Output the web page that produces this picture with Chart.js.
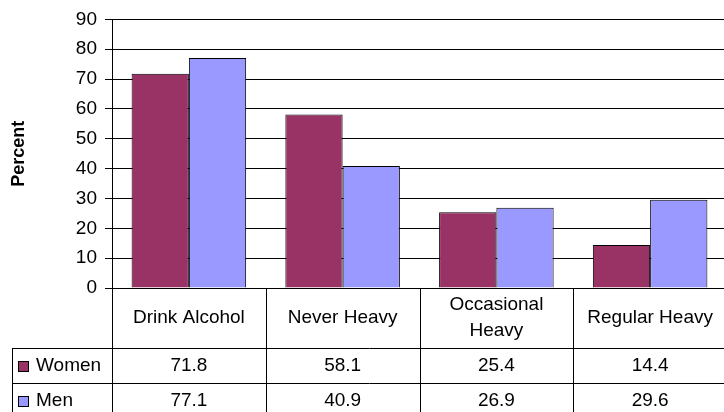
<!DOCTYPE html>
<html>
<head>
<meta charset="utf-8">
<script src="https://cdn.jsdelivr.net/npm/chart.js@4/dist/chart.umd.min.js"></script>
<style>
  html, body { margin: 0; padding: 0; background: #fff; overflow: hidden; }
  #wrap { width: 724px; height: 412px; overflow: hidden; position: relative; }
  canvas { display: block; }
</style>
</head>
<body>
<div id="wrap"><canvas id="c" width="740" height="412" style="width:740px;height:412px"></canvas></div>
<script>
// Drinking patterns by sex (percent)
const categories = ['Drink Alcohol', 'Never Heavy', ['Occasional', 'Heavy'], 'Regular Heavy'];
const seriesNames = ['Women', 'Men'];
const women = [71.8, 58.1, 25.4, 14.4];
const men = [77.1, 40.9, 26.9, 29.6];
const seriesColors = ['#993366', '#9999FF'];
const yMin = 0, yMax = 90, yStep = 10;
const yTitle = 'Percent';

const FONT = '"Liberation Sans", Arial, sans-serif';
const TEXT_SIZE = 19;

// Excel-style data table drawn beneath the plot, aligned to the category scale
const dataTable = {
  id: 'dataTable',
  afterDraw(chart) {
    const { ctx, chartArea: a } = chart;
    const labels = chart.data.labels;
    const n = labels.length;
    const cw = (a.right - a.left) / n;
    const headTop = a.bottom;
    const headBot = headTop + 60;
    const rowH = 35;
    const tableLeft = 12;
    const bottom = chart.height + 20;

    ctx.save();
    ctx.strokeStyle = '#000';
    ctx.lineWidth = 1;
    ctx.beginPath();
    for (let i = 0; i <= n; i++) {
      const px = Math.round(a.left + i * cw) + 0.5;
      ctx.moveTo(px, headTop);
      ctx.lineTo(px, bottom);
    }
    chart.data.datasets.forEach((ds, r) => {
      const py = Math.round(headBot + r * rowH) + 0.5;
      ctx.moveTo(tableLeft, py);
      ctx.lineTo(a.right, py);
    });
    ctx.moveTo(tableLeft + 0.5, headBot);
    ctx.lineTo(tableLeft + 0.5, bottom);
    ctx.stroke();

    ctx.fillStyle = '#000';
    ctx.font = TEXT_SIZE + 'px ' + FONT;
    ctx.textAlign = 'center';
    ctx.textBaseline = 'middle';

    // header: category names
    const lineH = 25.5;
    labels.forEach((lab, i) => {
      const lines = Array.isArray(lab) ? lab : [lab];
      const cx = a.left + (i + 0.5) * cw;
      const y0 = (headTop + headBot) / 2 - (lines.length - 1) * lineH / 2;
      lines.forEach((t, k) => ctx.fillText(t, cx, y0 + k * lineH));
    });

    // series rows: legend key, name, values
    chart.data.datasets.forEach((ds, r) => {
      const mid = headBot + r * rowH + rowH / 2;
      ctx.fillStyle = ds.backgroundColor;
      ctx.fillRect(18, Math.round(mid - 5), 11, 11);
      ctx.strokeStyle = '#000';
      ctx.strokeRect(18.5, Math.round(mid - 5) + 0.5, 10, 10);
      ctx.fillStyle = '#000';
      ctx.textAlign = 'left';
      ctx.fillText(ds.label, 36, mid);
      ctx.textAlign = 'center';
      ds.data.forEach((v, i) => {
        ctx.fillText(v.toFixed(1), a.left + (i + 0.5) * cw, mid);
      });
    });
    ctx.restore();
  }
};

new Chart(document.getElementById('c'), {
  type: 'bar',
  data: {
    labels: categories,
    datasets: [
      { label: seriesNames[0], data: women, backgroundColor: seriesColors[0] },
      { label: seriesNames[1], data: men, backgroundColor: seriesColors[1] }
    ]
  },
  options: {
    responsive: false,
    animation: false,
    devicePixelRatio: 1,
    layout: { padding: { left: 0, top: 16, right: 13, bottom: 124 } },
    datasets: {
      bar: {
        borderColor: '#000',
        borderWidth: 1,
        categoryPercentage: 0.745,
        barPercentage: 1.0
      }
    },
    plugins: {
      legend: { display: false },
      tooltip: { enabled: false },
      title: { display: false }
    },
    scales: {
      x: {
        display: false
      },
      y: {
        min: yMin,
        max: yMax,
        ticks: {
          stepSize: yStep,
          color: '#000',
          padding: 8,
          font: { family: FONT, size: TEXT_SIZE }
        },
        grid: {
          color: '#000',
          lineWidth: 1,
          tickLength: 7,
          drawTicks: true
        },
        border: { color: '#000', width: 1 },
        title: {
          display: true,
          text: yTitle,
          color: '#000',
          font: { family: FONT, size: 18, weight: 'bold' },
          padding: { top: 8, bottom: 0 }
        },
        afterFit(scale) { scale.width = 112; }
      }
    }
  },
  plugins: [dataTable]
});
</script>
</body>
</html>
